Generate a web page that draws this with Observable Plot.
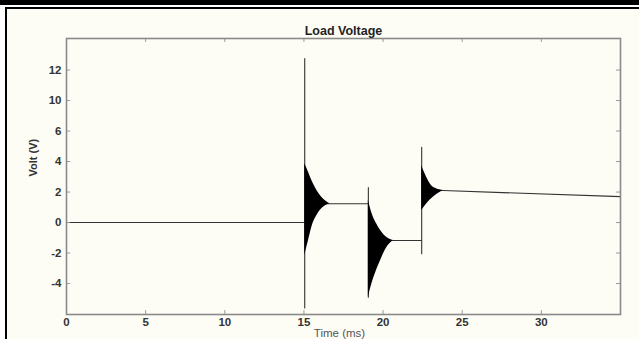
<!DOCTYPE html>
<html>
<head>
<meta charset="utf-8">
<script src="https://cdn.jsdelivr.net/npm/d3@7"></script>
<script src="https://cdn.jsdelivr.net/npm/@observablehq/plot@0.6"></script>
<style>
  html, body { margin: 0; padding: 0; background: #ffffff; }
  #wrap { position: relative; width: 639px; height: 339px; overflow: hidden; background: #fefdf5; }
  #topband { position: absolute; left: 0; top: 0; width: 639px; height: 5px; background: #000; }
  #topline { position: absolute; left: 5px; top: 7px; width: 634px; height: 2px; background: #000; }
  #leftline { position: absolute; left: 5px; top: 7px; width: 2px; height: 332px; background: #000; }
  #gapwhite { position: absolute; left: 0; top: 5px; width: 639px; height: 2px; background: #fff; }
  #leftwhite { position: absolute; left: 0; top: 5px; width: 5px; height: 334px; background: #fff; }
  svg { display: block; }
</style>
</head>
<body>
<div id="wrap">
  <div id="chart"></div>
  <div id="gapwhite"></div>
  <div id="leftwhite"></div>
  <div id="topband"></div>
  <div id="topline"></div>
  <div id="leftline"></div>
</div>
<script>
// Main trace (time in ms, voltage in V)
const lineT = [0, 15.05, 15.05, 15.05, 15.05, 16.66, 19.07, 19.07, 19.07, 19.07, 20.65, 22.44, 22.44, 22.44, 22.44, 23.8, 35];
const lineV = [0, 0, 10.75, -5.6, 1.23, 1.23, 1.23, 2.3, -4.9, -1.18, -1.18, -1.18, 4.94, -2.05, 2.1, 2.1, 1.7];

// Oscillation envelopes (filled black bursts)
const envBurst = [1, 1, 1, 1, 1, 1, 2, 2, 2, 2, 2, 2, 3, 3, 3, 3];
const envT     = [15.05, 15.29, 15.5, 15.82, 16.23, 16.66, 19.07, 19.3, 19.6, 19.9, 20.2, 20.65, 22.44, 22.75, 23.17, 23.8];
const envHi    = [3.85, 3.3, 2.75, 2.1, 1.55, 1.23, 1.44, 0.6, -0.1, -0.6, -0.95, -1.18, 3.74, 2.97, 2.31, 2.1];
const envLo    = [-2.16, -1.18, -0.3, 0.46, 1.0, 1.23, -4.9, -4.0, -3.1, -2.35, -1.7, -1.18, 0.79, 1.22, 1.66, 2.1];

// Axis ticks
const xTicks = [0, 5, 10, 15, 20, 25, 30];
const yTickValues = [10, 8, 6, 4, 2, 0, -2, -4];
const yTickLabels = ["12", "10", "6", "4", "2", "0", "-2", "-4"];

const xDomain = [0, 35];
const yDomain = [-6.03, 12.07];

const lineData = lineT.map((t, i) => ({t, v: lineV[i]}));
const envData = envT.map((t, i) => ({t, hi: envHi[i], lo: envLo[i], burst: envBurst[i]}));

const font = "'Liberation Sans', Arial, Helvetica, sans-serif";
const tickLen = 0.26;
const tickLenY = 0.26;

const chart = Plot.plot({
  width: 639,
  height: 339,
  marginLeft: 66,
  marginRight: 19,
  marginTop: 38,
  marginBottom: 25,
  style: {background: "#fefdf5", fontFamily: font, overflow: "visible"},
  x: {domain: xDomain},
  y: {domain: yDomain},
  marks: [
    Plot.line(lineData, {x: "t", y: "v", stroke: "#333", strokeWidth: 1.1}),
    Plot.areaY(envData, {x: "t", y1: "lo", y2: "hi", z: "burst", fill: "#000", curve: "monotone-x"}),
    Plot.ruleY(yTickValues, {y: d => d, x1: xDomain[0], x2: xDomain[0] + tickLen, stroke: "#999"}),
    Plot.ruleY(yTickValues, {y: d => d, x1: xDomain[1] - tickLen, x2: xDomain[1], stroke: "#999"}),
    Plot.ruleX(xTicks, {x: d => d, y1: yDomain[0], y2: yDomain[0] + tickLenY, stroke: "#999"}),
    Plot.ruleX(xTicks, {x: d => d, y1: yDomain[1] - tickLenY, y2: yDomain[1], stroke: "#999"}),
    Plot.frame({stroke: "#8a8a8a", strokeWidth: 1.6}),
    Plot.axisY(yTickValues, {
      tickSize: 0, tickPadding: 5, label: null,
      tickFormat: d => yTickLabels[yTickValues.indexOf(d)],
      fontWeight: "bold", fontSize: 11.5, fill: "#333"
    }),
    Plot.axisX(xTicks, {
      tickSize: 0, tickPadding: 3, label: null,
      fontWeight: "bold", fontSize: 11.5, fill: "#333"
    }),
    Plot.text(["Load Voltage"], {frameAnchor: "top", lineAnchor: "middle", dy: -8, fontWeight: "bold", fontSize: 12.5, fill: "#222"}),
    Plot.text(["Time (ms)"], {frameAnchor: "bottom", lineAnchor: "middle", dy: 19, dx: -4, fontSize: 11.5, fill: "#555"}),
    Plot.text(["Volt (V)"], {frameAnchor: "left", lineAnchor: "middle", rotate: -90, dx: -33, fontWeight: "bold", fontSize: 11, fill: "#333"})
  ]
});
document.getElementById("chart").appendChild(chart);
</script>
</body>
</html>
